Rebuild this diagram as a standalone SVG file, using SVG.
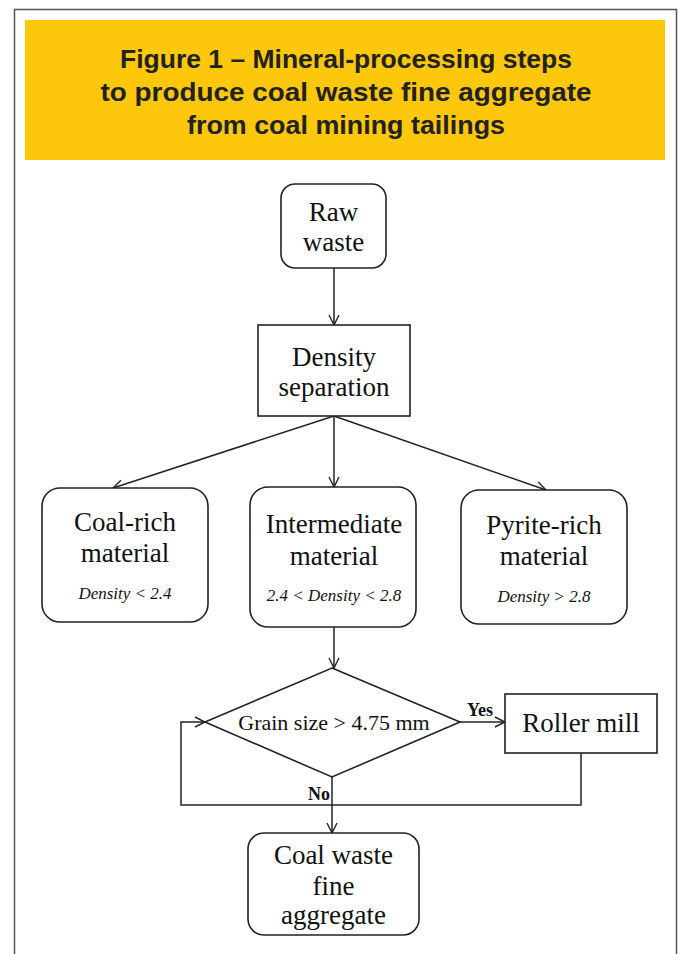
<svg xmlns="http://www.w3.org/2000/svg" width="678" height="954" viewBox="0 0 678 954">
<style>
.t{font-family:"Liberation Serif","Times New Roman",serif;font-size:27px;fill:#111;text-anchor:middle}
.i{font-family:"Liberation Serif","Times New Roman",serif;font-size:17px;font-style:italic;fill:#111;text-anchor:middle}
.b{font-family:"Liberation Serif","Times New Roman",serif;font-size:18px;font-weight:bold;fill:#111;text-anchor:middle}
.h{font-family:"Liberation Sans",Arial,sans-serif;font-size:26px;font-weight:bold;fill:#222;text-anchor:middle}
.n{fill:#fff;stroke:#222;stroke-width:1.6}
.c{fill:none;stroke:#222;stroke-width:1.5}
</style>
<defs>
<marker id="a" viewBox="0 0 12 12" refX="11" refY="6" markerWidth="12" markerHeight="12" markerUnits="userSpaceOnUse" orient="auto">
<polyline points="1,1 11,6 1,11" fill="none" stroke="#222" stroke-width="1.4"/>
</marker>
</defs>
<rect x="0" y="0" width="678" height="954" fill="#fff"/>
<rect x="14.5" y="9.5" width="662" height="960" fill="none" stroke="#555" stroke-width="1.5"/>
<g id="title">
<rect x="25" y="20" width="640" height="140" fill="#FDC70C"/>
<text class="h" x="346" y="68" textLength="452" lengthAdjust="spacingAndGlyphs">Figure 1 – Mineral-processing steps</text>
<text class="h" x="346" y="101" textLength="491" lengthAdjust="spacingAndGlyphs">to produce coal waste fine aggregate</text>
<text class="h" x="346" y="134" textLength="318" lengthAdjust="spacingAndGlyphs">from coal mining tailings</text>
</g>
<g id="connectors">
<line class="c" x1="334" y1="268" x2="334" y2="325" marker-end="url(#a)"/>
<line class="c" x1="334" y1="416" x2="113" y2="488" marker-end="url(#a)"/>
<line class="c" x1="334" y1="416" x2="334" y2="487" marker-end="url(#a)"/>
<line class="c" x1="334" y1="416" x2="546" y2="490" marker-end="url(#a)"/>
<line class="c" x1="334" y1="627" x2="334" y2="668" marker-end="url(#a)"/>
<line class="c" x1="460" y1="722" x2="505" y2="722" marker-end="url(#a)"/>
<polyline class="c" points="581,753 581,805 181,805 181,722 205,722" marker-end="url(#a)"/>
<line class="c" x1="332" y1="777" x2="332" y2="833" marker-end="url(#a)"/>
<text class="b" x="480" y="716">Yes</text>
<text class="b" x="319" y="800">No</text>
</g>
<g id="raw-waste">
<rect class="n" x="281" y="184" width="105" height="84" rx="14"/>
<text class="t" x="333.5" y="221">Raw</text>
<text class="t" x="333.5" y="251">waste</text>
</g>
<g id="density-separation">
<rect class="n" x="258" y="325" width="152" height="91"/>
<text class="t" x="334" y="366">Density</text>
<text class="t" x="334" y="396">separation</text>
</g>
<g id="coal-rich">
<rect class="n" x="42" y="488" width="166" height="134" rx="18"/>
<text class="t" x="125" y="531">Coal-rich</text>
<text class="t" x="125" y="562">material</text>
<text class="i" x="125" y="599">Density &lt; 2.4</text>
</g>
<g id="intermediate">
<rect class="n" x="250" y="487" width="166" height="140" rx="18"/>
<text class="t" x="334" y="533">Intermediate</text>
<text class="t" x="334" y="565">material</text>
<text class="i" x="334" y="601">2.4 &lt; Density &lt; 2.8</text>
</g>
<g id="pyrite-rich">
<rect class="n" x="461" y="490" width="166" height="134" rx="18"/>
<text class="t" x="544" y="534">Pyrite-rich</text>
<text class="t" x="544" y="565">material</text>
<text class="i" x="544" y="602">Density &gt; 2.8</text>
</g>
<g id="grain-size">
<polygon class="n" points="332,668 460,722 332,777 205,722"/>
<text class="t" x="334" y="730" style="font-size:22px">Grain size &gt; 4.75 mm</text>
</g>
<g id="roller-mill">
<rect class="n" x="505" y="694" width="152" height="59"/>
<text class="t" x="581" y="732">Roller mill</text>
</g>
<g id="fine-aggregate">
<rect class="n" x="248" y="833" width="171" height="102" rx="16"/>
<text class="t" x="333.5" y="864">Coal waste</text>
<text class="t" x="333.5" y="895">fine</text>
<text class="t" x="333.5" y="924">aggregate</text>
</g>
</svg>
